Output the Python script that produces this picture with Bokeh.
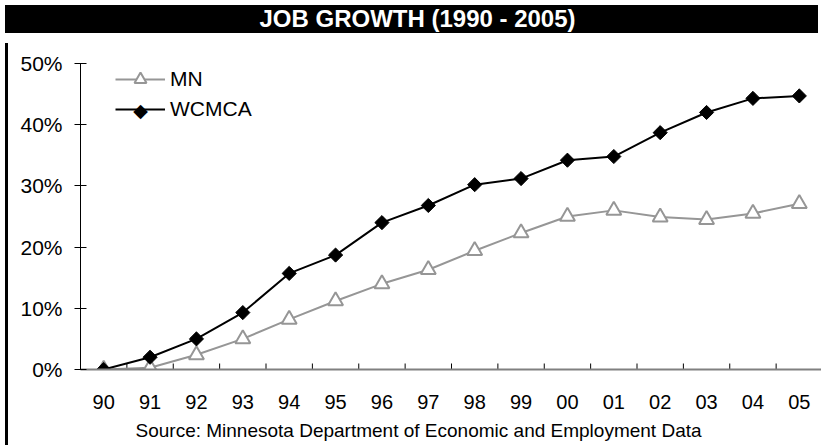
import math
from bokeh.plotting import figure
from bokeh.models import (ColumnDataSource, FixedTicker, NumeralTickFormatter, Range1d,
                          Legend, LegendItem, Div, Title, Label)
from bokeh.layouts import column, row
from bokeh.embed import file_html
from bokeh.resources import INLINE

# ---- data ----
years = ["90", "91", "92", "93", "94", "95", "96", "97", "98", "99",
         "00", "01", "02", "03", "04", "05"]
mn = [0.0, 0.3, 2.4, 5.0, 8.2, 11.2, 14.0, 16.3, 19.4, 22.3,
      25.0, 26.0, 24.9, 24.5, 25.5, 27.1]
wcmca = [0.0, 2.0, 5.0, 9.3, 15.7, 18.7, 24.0, 26.8, 30.2, 31.2,
         34.2, 34.8, 38.7, 42.0, 44.3, 44.7]
y_ticks = [0.0, 0.1, 0.2, 0.3, 0.4, 0.5]

title_text = "JOB GROWTH (1990 - 2005)"
source_text = "Source: Minnesota Department of Economic and Employment Data"

FONT = "Liberation Sans"
GRAY = "#969696"

# ---- figure ----
FIG_W, FIG_H = 810, 409
BORDER_L, BORDER_R, BORDER_T, BORDER_B = 67, 1, 25, 78
frame_h = FIG_H - BORDER_T - BORDER_B

idx = list(range(len(years)))
src = ColumnDataSource(dict(x=idx, mn=[v / 100 for v in mn], wc=[v / 100 for v in wcmca]))

p = figure(width=FIG_W, height=FIG_H,
           x_range=Range1d(-0.5, len(years) - 0.5), y_range=Range1d(0, 0.5),
           output_backend="svg", toolbar_location=None,
           min_border_left=BORDER_L, min_border_right=BORDER_R,
           min_border_top=BORDER_T, min_border_bottom=BORDER_B)
p.outline_line_color = None
p.xgrid.visible = False
p.ygrid.visible = False
p.background_fill_color = "white"
p.border_fill_color = "white"

# y axis
ya = p.yaxis[0]
ya.ticker = FixedTicker(ticks=y_ticks, minor_ticks=[])
ya.formatter = NumeralTickFormatter(format="0%")
ya.major_tick_in = 6
ya.major_tick_out = 6
ya.major_tick_line_color = "black"
ya.axis_line_color = "black"
ya.minor_tick_line_color = None
ya.major_label_text_font = FONT
ya.major_label_text_font_size = "21px"
ya.major_label_text_color = "black"
ya.major_label_standoff = 12

# x axis
xa = p.xaxis[0]
xa.ticker = FixedTicker(ticks=idx, minor_ticks=[])
xa.major_label_overrides = {i: y for i, y in zip(idx, years)}
xa.major_tick_line_color = None
xa.minor_tick_line_color = None
xa.axis_line_color = "#808080"
xa.axis_line_width = 2
xa.major_label_text_font = FONT
xa.major_label_text_font_size = "20px"
xa.major_label_text_color = "black"
xa.major_label_standoff = 19

# category boundary ticks (pointing up, 6px)
bounds = [i - 0.5 for i in range(len(years) + 1)]
tick_len = 0.5 * 6 / frame_h
p.segment(x0=bounds, y0=[0] * len(bounds), x1=bounds, y1=[tick_len] * len(bounds),
          line_color="black", line_width=1)

# series
mn_line = p.line("x", "mn", source=src, line_color=GRAY, line_width=2)
mn_mark = p.scatter("x", "mn", source=src, marker="triangle", size=15,
                    fill_color="white", line_color=GRAY, line_width=2)
wc_line = p.line("x", "wc", source=src, line_color="black", line_width=2)
wc_mark = p.scatter("x", "wc", source=src, marker="square", size=10, angle=math.pi / 4,
                    fill_color="black", line_color="black", line_width=1)

# legend (glyph_height 30 -> item pitch 30, legend marker size 12)
GH = 30
legend = Legend(items=[LegendItem(label="MN", renderers=[mn_line, mn_mark]),
                       LegendItem(label="WCMCA", renderers=[wc_line])],
                location=(35, frame_h - 2 * GH - 1))
legend.border_line_color = None
legend.background_fill_alpha = 0
legend.padding = 0
legend.margin = 0
legend.spacing = 0
legend.glyph_width = 50
legend.glyph_height = GH
legend.label_height = GH
legend.label_standoff = 5
legend.label_text_font = FONT
legend.label_text_font_size = "21px"
legend.label_text_color = "black"
p.add_layout(legend)

# rotated-square marker for the WCMCA legend entry
diamond_lbl = Label(x=35 + 25, y=frame_h - 1 - GH - GH // 2, x_units="screen", y_units="screen",
                    text="\u25c6", text_font="DejaVu Sans", text_font_size="19px",
                    text_color="black", text_align="center", text_baseline="middle")
p.add_layout(diamond_lbl)

# source note below the axis
src_title = Title(text=source_text, align="left", offset=55,
                  text_font=FONT, text_font_size="19px", text_font_style="normal",
                  text_color="black", standoff=13)
p.add_layout(src_title, "below")

# ---- title bar and left border ----
title_div = Div(width=813, height=28, text=(
    '<div style="width:813px;height:28px;'
    'background:#000;color:#fff;font-family:\'Liberation Sans\',Arial,sans-serif;'
    'font-weight:bold;font-size:24px;line-height:28px;text-align:center;'
    'padding-left:12px;box-sizing:border-box;">' + title_text + '</div>'))
border_div = Div(width=3, height=FIG_H, text=(
    '<div style="width:3px;height:409px;background:#000;"></div>'))

layout = column(title_div, row(border_div, p, spacing=0), spacing=0)

open("out.html", "w").write(file_html(layout, INLINE))
